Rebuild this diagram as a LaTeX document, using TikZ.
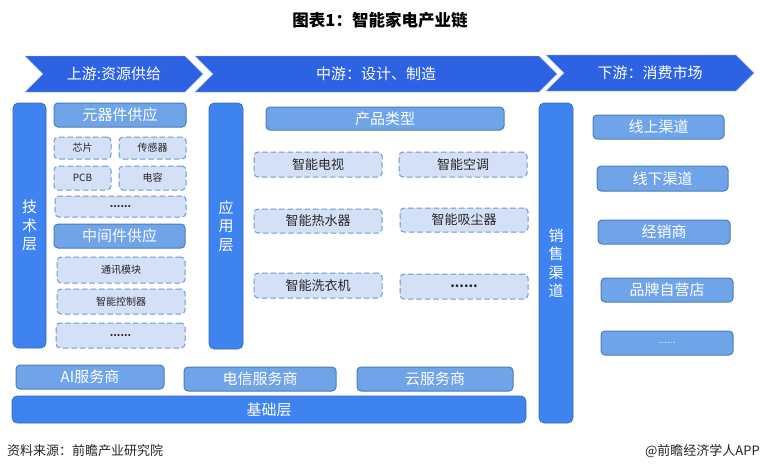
\documentclass[tikz,border=0pt]{standalone}
\usepackage{fontspec}
\setmainfont{Noto Sans CJK SC}
\usepackage{xcolor}
\usetikzlibrary{shapes.symbols}
\definecolor{stageblue}{HTML}{2D63E2}
\definecolor{barblue}{HTML}{3F83F1}
\definecolor{midblue}{HTML}{6FA4E9}
\definecolor{midedge}{HTML}{4C7DB8}
\definecolor{paleblue}{HTML}{D3E0F6}
\definecolor{dashblue}{HTML}{6C98D6}
\tikzset{
  stagebox/.style={signal, signal from=west, signal to=east, fill=stageblue, draw=stageblue!45, line width=0.4, inner sep=0, text=white, font=\fontsize{15}{17}\selectfont},
  barbox/.style={draw=barblue!80!black, line width=0.6, rounded corners=5, fill=barblue, inner sep=0, text=white, align=center, font=\fontsize{15}{18.5}\selectfont},
  midbox/.style={draw=midedge, line width=1, rounded corners=4, fill=midblue, inner sep=0, text=white, font=\fontsize{15}{17}\selectfont},
  partbox/.style={draw=dashblue, line width=1, dash pattern=on 5.5 off 3, rounded corners=4, fill=paleblue, inner sep=0, text=black!85, font=\fontsize{10}{12}\selectfont},
  itembox/.style={partbox, font=\fontsize{13}{15}\selectfont},
}
\begin{document}
\begin{tikzpicture}[x=1pt,y=-1pt]
\useasboundingbox[fill=white] (0,0) rectangle (760,472);
\node[font=\fontsize{16.5}{18}\bfseries] (title) at (380,20.5) {图表1：智能家电产业链};
% stages
\node[stagebox, minimum width=178, minimum height=36] (up) at (114,74) {上游:资源供给};
\node[stagebox, minimum width=362, minimum height=36] (mid) at (376,74) {中游：设计、制造};
\node[stagebox, minimum width=208, minimum height=36] (down) at (650,73) {下游：消费市场};
% upstream
\node[barbox, minimum width=33, minimum height=245] (tech) at (29.5,225.5) {技\\术\\层};
\node[midbox, minimum width=132, minimum height=24] (parts) at (120,115) {元器件供应};
\node[partbox, minimum width=57, minimum height=22] (chip) at (82.5,148) {芯片};
\node[partbox, minimum width=67, minimum height=22] (sensor) at (152.5,148) {传感器};
\node[partbox, minimum width=57, minimum height=24] (pcb) at (82.5,178) {PCB};
\node[partbox, minimum width=67, minimum height=24] (cap) at (152.5,178) {电容};
\node[partbox, minimum width=131, minimum height=21] (partsmore) at (120.5,206.5) {\bfseries ......};
\node[midbox, minimum width=131, minimum height=24] (middle) at (119.5,236) {中间件供应};
\node[partbox, minimum width=128, minimum height=26] (comm) at (121,270) {通讯模块};
\node[partbox, minimum width=128, minimum height=25] (ctrl) at (121,301.5) {智能控制器};
\node[partbox, minimum width=129, minimum height=25] (middlemore) at (120.5,335.5) {\bfseries ......};
% midstream
\node[barbox, minimum width=34, minimum height=246] (app) at (226,226) {应\\用\\层};
\node[midbox, minimum width=238, minimum height=23] (kinds) at (385,118.5) {产品类型};
\node[itembox, minimum width=128, minimum height=25] (tv) at (318,164.5) {智能电视};
\node[itembox, minimum width=128, minimum height=25] (ac) at (463,164.5) {智能空调};
\node[itembox, minimum width=128, minimum height=24] (heater) at (318,221) {智能热水器};
\node[itembox, minimum width=128, minimum height=24] (vacuum) at (464,220) {智能吸尘器};
\node[itembox, minimum width=128, minimum height=25] (washer) at (318,285.5) {智能洗衣机};
\node[itembox, minimum width=128, minimum height=25] (kindsmore) at (464,286.5) {\bfseries ......};
% base
\node[midbox, minimum width=148, minimum height=24] (ai) at (90,377) {AI服务商};
\node[midbox, minimum width=152, minimum height=24] (telecom) at (260,379) {电信服务商};
\node[midbox, minimum width=156, minimum height=24] (cloud) at (435,379) {云服务商};
\node[barbox, minimum width=514, minimum height=27] (base) at (269,409.5) {基础层};
% downstream
\node[barbox, minimum width=34, minimum height=320] (sales) at (556,263) {销\\售\\渠\\道};
\node[midbox, minimum width=131, minimum height=24] (online) at (658.5,127) {线上渠道};
\node[midbox, minimum width=131, minimum height=25] (offline) at (662.5,178.5) {线下渠道};
\node[midbox, minimum width=132, minimum height=24] (dealer) at (664,232) {经销商};
\node[midbox, minimum width=132, minimum height=24] (store) at (667,290) {品牌自营店};
\node[midbox, minimum width=132, minimum height=24, font=\fontsize{10}{12}\selectfont, text=white!75!midblue] (salesmore) at (667,343) {......};
% source line
\node[anchor=west, text=black!85, inner sep=0, font=\fontsize{13}{15}\selectfont] (source) at (7,451) {资料来源：前瞻产业研究院};
\node[anchor=east, text=black!85, inner sep=0, font=\fontsize{13}{15}\selectfont] (credit) at (760,451) {@前瞻经济学人APP};
\end{tikzpicture}
\end{document}
